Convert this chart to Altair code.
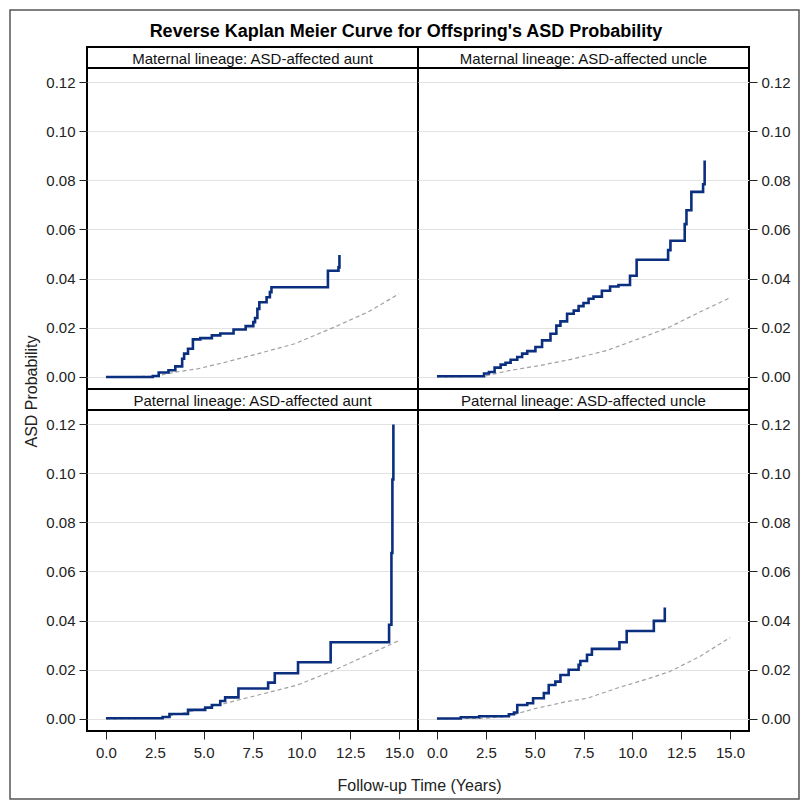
import altair as alt
import pandas as pd

# ---------------- data ----------------
panel_labels = [
    "Maternal lineage: ASD-affected aunt",
    "Maternal lineage: ASD-affected uncle",
    "Paternal lineage: ASD-affected aunt",
    "Paternal lineage: ASD-affected uncle",
]
main_title = "Reverse Kaplan Meier Curve for Offspring's ASD Probability"
x_title = "Follow-up Time (Years)"
y_title = "ASD Probability"
x_ticks = [0.0, 2.5, 5.0, 7.5, 10.0, 12.5, 15.0]
y_ticks = [0.00, 0.02, 0.04, 0.06, 0.08, 0.10, 0.12]

# observed step curves (solid)
mat_aunt_t = [0, 2.4, 2.7, 3.2, 3.55, 3.9, 4.0, 4.2, 4.45, 4.83, 5.42, 5.85, 6.53, 7.15,
              7.54, 7.63, 7.75, 7.85, 8.22, 8.39, 8.47, 11.36, 11.9, 11.95]
mat_aunt_p = [0.0, 0.0004, 0.0018, 0.0027, 0.0043, 0.0074, 0.0095, 0.0115, 0.0153, 0.0158,
              0.0169, 0.0177, 0.0193, 0.0207, 0.0223, 0.024, 0.0277, 0.0304, 0.0324, 0.0345,
              0.0365, 0.0432, 0.0446, 0.0496]

mat_uncle_t = [0, 2.41, 2.66, 2.95, 3.26, 3.51, 3.77, 4.11, 4.36, 4.62, 5.04, 5.38, 5.81, 6.11,
               6.32, 6.66, 7.0, 7.25, 7.5, 7.76, 8.01, 8.44, 8.86, 9.29, 9.88, 10.22, 11.83,
               11.95, 12.68, 12.77, 13.02, 13.62, 13.7]
mat_uncle_p = [0.0003, 0.0014, 0.002, 0.0038, 0.005, 0.0058, 0.007, 0.0081, 0.0095, 0.0105,
               0.0122, 0.0149, 0.0176, 0.0209, 0.0226, 0.0257, 0.027, 0.0288, 0.0301, 0.0318,
               0.0327, 0.0351, 0.0368, 0.0374, 0.0412, 0.0477, 0.0516, 0.0554, 0.0622, 0.0678,
               0.0753, 0.0784, 0.0881]

pat_aunt_t = [0, 2.9, 3.25, 4.2, 5.08, 5.42, 5.85, 6.1, 6.78, 8.3, 8.64, 9.83, 11.5, 14.49,
              14.61, 14.66, 14.71]
pat_aunt_p = [0.0003, 0.0008, 0.002, 0.0037, 0.0046, 0.0057, 0.0073, 0.0088, 0.0124, 0.0148,
              0.0186, 0.0231, 0.0312, 0.0383, 0.0675, 0.0974, 0.1198]

pat_uncle_t = [0, 1.22, 2.16, 3.68, 3.94, 4.11, 4.62, 4.92, 5.47, 5.72, 6.06, 6.32, 6.74, 7.25,
               7.34, 7.68, 7.93, 9.34, 9.71, 11.1, 11.66]
pat_uncle_p = [0.0002, 0.0007, 0.0011, 0.0019, 0.0026, 0.0057, 0.0064, 0.0084, 0.0105, 0.0138,
               0.0152, 0.0179, 0.02, 0.022, 0.0236, 0.0261, 0.0285, 0.0312, 0.0358, 0.0399,
               0.0453]

# reference curves (dashed)
mat_aunt_ref_t = [0, 2.5, 3.57, 4.75, 6.1, 7.8, 9.66, 11.7, 13.4, 15.0]
mat_aunt_ref_p = [0.0, 0.0003, 0.002, 0.0034, 0.006, 0.0095, 0.0135, 0.0203, 0.0264, 0.0338]
mat_uncle_ref_t = [0, 2.41, 3.77, 5.3, 7.0, 8.7, 10.56, 11.9, 13.45, 15.0]
mat_uncle_ref_p = [0.0, 0.0003, 0.0027, 0.0047, 0.0074, 0.0108, 0.0162, 0.0203, 0.0264, 0.0322]
pat_aunt_ref_t = [0, 2.71, 3.9, 5.25, 6.78, 8.47, 9.83, 11.53, 13.22, 15.0]
pat_aunt_ref_p = [0.0, 0.0003, 0.0023, 0.0046, 0.0077, 0.0111, 0.0139, 0.0193, 0.0254, 0.0319]
pat_uncle_ref_t = [0, 2.41, 3.6, 4.96, 6.66, 7.68, 9.2, 10.9, 11.92, 13.45, 15.0]
pat_uncle_ref_p = [0.0, 0.0003, 0.001, 0.0041, 0.0071, 0.0084, 0.0125, 0.0166, 0.0193, 0.0254, 0.0331]

# ---------------- layout ----------------
W = 331
H = 321
HH = 21
FONT = "Liberation Sans"
NAVY = "#0b2f7f"
XDOM = [-0.97, 15.97]
YDOM = [-0.0049, 0.1257]


def plot_panel(t, p, rt, rp, y_orient, show_x, with_ytitle=False, with_xtitle=False):
    obs = pd.DataFrame({"t": t, "p": p})
    ref = pd.DataFrame({"t": rt, "p": rp})
    yaxis_kw = dict(orient=y_orient, values=y_ticks, format=".2f", grid=True,
                    gridColor="#e2e2e2", gridWidth=1.2, domain=False, tickColor="#222",
                    tickSize=8, labelFont=FONT, labelFontSize=15, labelColor="#222",
                    labelPadding=4, title=None)
    if with_ytitle:
        yaxis_kw.update(title=y_title, titleFont=FONT, titleFontSize=16, titleFontWeight="normal",
                        titleColor="#222", titleX=-56, titleY=323, titleAngle=270,
                        titleAlign="center", titleBaseline="middle")
    yaxis = alt.Axis(**yaxis_kw)
    if show_x:
        xaxis_kw = dict(values=x_ticks, format=".1f", grid=False, domain=False,
                        tickColor="#222", tickSize=8, labelFont=FONT, labelFontSize=15,
                        labelColor="#222", labelPadding=6, title=None, labelFlush=False)
        if with_xtitle:
            xaxis_kw.update(title=x_title, titleFont=FONT, titleFontSize=16,
                            titleFontWeight="normal", titleColor="#222", titleX=332,
                            titleY=59, titleAlign="center", titleBaseline="alphabetic")
        xaxis = alt.Axis(**xaxis_kw)
    else:
        xaxis = None
    xs = alt.Scale(domain=XDOM, nice=False, zero=False)
    ys = alt.Scale(domain=YDOM, nice=False, zero=False)
    dashed = alt.Chart(ref).mark_line(color="#a0a0a0", strokeWidth=1.2, strokeDash=[4, 3]).encode(
        x=alt.X("t:Q", scale=xs, axis=xaxis),
        y=alt.Y("p:Q", scale=ys, axis=yaxis),
    )
    solid = alt.Chart(obs).mark_line(color=NAVY, strokeWidth=2.6, interpolate="step-after").encode(
        x=alt.X("t:Q", scale=xs, axis=xaxis),
        y=alt.Y("p:Q", scale=ys, axis=yaxis),
    )
    return alt.layer(dashed, solid).properties(width=W, height=H)


def header(label, extra=None):
    txt = alt.Chart(pd.DataFrame({"label": [label]})).mark_text(
        font=FONT, fontSize=15, color="#111", align="center", baseline="alphabetic"
    ).encode(text="label:N", x=alt.value(W / 2), y=alt.value(17))
    layers = [txt]
    if extra:
        layers += extra
    return alt.layer(*layers).properties(width=W, height=HH)


title_mark = alt.Chart(pd.DataFrame({"label": [main_title]})).mark_text(
    font=FONT, fontSize=18, fontWeight="bold", color="#000", align="center", baseline="alphabetic"
).encode(text="label:N", x=alt.value(319), y=alt.value(-10.5))

frame = alt.Chart(pd.DataFrame({"a": [0]})).mark_rect(
    fill="transparent", stroke="#555", strokeWidth=1.5
).encode(x=alt.value(-77), x2=alt.value(712), y=alt.value(-37), y2=alt.value(752))

h_tl = header(panel_labels[0], [title_mark, frame])
h_tr = header(panel_labels[1])
h_bl = header(panel_labels[2])
h_br = header(panel_labels[3])

p_tl = plot_panel(mat_aunt_t, mat_aunt_p, mat_aunt_ref_t, mat_aunt_ref_p, "left", False,
                  with_ytitle=True)
p_tr = plot_panel(mat_uncle_t, mat_uncle_p, mat_uncle_ref_t, mat_uncle_ref_p, "right", False)
p_bl = plot_panel(pat_aunt_t, pat_aunt_p, pat_aunt_ref_t, pat_aunt_ref_p, "left", True,
                  with_xtitle=True)
p_br = plot_panel(pat_uncle_t, pat_uncle_p, pat_uncle_ref_t, pat_uncle_ref_p, "right", True)

chart = alt.concat(
    h_tl, h_tr, p_tl, p_tr, h_bl, h_br, p_bl, p_br,
    columns=2, spacing=0, bounds="flush"
).properties(
    padding=0, background="white"
).configure_view(stroke="black", strokeWidth=2)

chart.save("out.html", embed_options={"renderer": "svg", "actions": False})
